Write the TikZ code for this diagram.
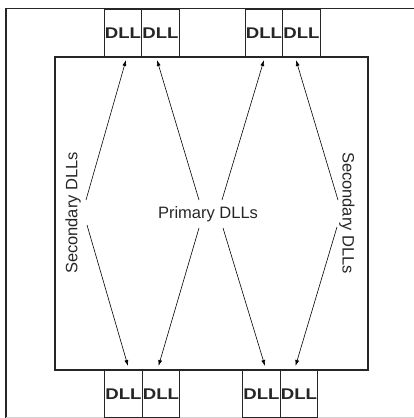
\documentclass[tikz,border=0pt]{standalone}
\usepackage{fontspec}
\setmainfont{Liberation Sans}
\usepackage{graphicx}
\usepackage{tikz}
\usetikzlibrary{positioning,arrows.meta}

\begin{document}
\begin{tikzpicture}[
		%Global config
		x=1pt, y=-1pt,
		>={Latex[length=6pt,width=4pt]},
		line width=1.3pt,
		color = black!85,
		%Styles
		dll/.style={
			draw,
			fill=white,
			minimum width=37.5pt,
			minimum height=48pt,
			inner sep=0pt,
			outer sep=0pt,
			font=\fontsize{15.5}{16}\selectfont\bfseries,
		},
		lbl/.style={
			inner sep=1pt,
			font=\fontsize{16.5}{18}\selectfont,
		},
		link/.style={
			->,
			line width=0.6pt,
			color=black
			}
		]
		\useasboundingbox (0,0) rectangle (414,418);

		% Frame and die
		\draw (6,418) -- (6,8.5) -- (414,8.5);
		\draw[gray!35, line width=0.8pt] (6,417) -- (414,417);
		\draw (55,57) rectangle (368,370);

		% DLL blocks
		\node[dll] (tl1) at (123,33) {\scalebox{1.2}[1]{DLL}};
		\node[dll, right=0pt of tl1] (tl2) {\scalebox{1.2}[1]{DLL}};
		\node[dll] (tr1) at (264,33) {\scalebox{1.2}[1]{DLL}};
		\node[dll, right=0pt of tr1] (tr2) {\scalebox{1.2}[1]{DLL}};
		\node[dll] (bl1) at (123.5,394) {\scalebox{1.2}[1]{DLL}};
		\node[dll, right=0pt of bl1] (bl2) {\scalebox{1.2}[1]{DLL}};
		\node[dll] (br1) at (261.5,394) {\scalebox{1.2}[1]{DLL}};
		\node[dll, right=0pt of br1] (br2) {\scalebox{1.2}[1]{DLL}};

		% Labels
		\node[lbl, rotate=90] (secL) at (73,213) {Secondary DLLs};
		\node[lbl] (prim) at (208,214) {Primary DLLs};
		\node[lbl, rotate=-90] (secR) at (347,213) {Secondary DLLs};

		\coordinate (a1) at (86,200);
		\coordinate (a2) at (87,225);
		\coordinate (p1) at (199,200);
		\coordinate (p2) at (222,200);
		\coordinate (p3) at (199,228);
		\coordinate (p4) at (223,228);
		\coordinate (s1) at (338,200);
		\coordinate (s2) at (337,227);

		% Links
		\draw[link] (a1) -- ([xshift=3pt,yshift=-3pt]tl1.south);
		\draw[link] (a2) -- ([xshift=4.5pt,yshift=4pt]bl1.north);
		\draw[link] (p1) -- ([xshift=-3.5pt,yshift=-3pt]tl2.south);
		\draw[link] (p2) -- ([yshift=-3pt]tr1.south);
		\draw[link] (p3) -- ([xshift=-2.5pt,yshift=4pt]bl2.north);
		\draw[link] (p4) -- ([xshift=3.5pt,yshift=4pt]br1.north);
		\draw[link] (s1) -- ([xshift=-5.5pt,yshift=-3pt]tr2.south);
		\draw[link] (s2) -- ([xshift=-3.5pt,yshift=4pt]br2.north);
	\end{tikzpicture}
\end{document}
